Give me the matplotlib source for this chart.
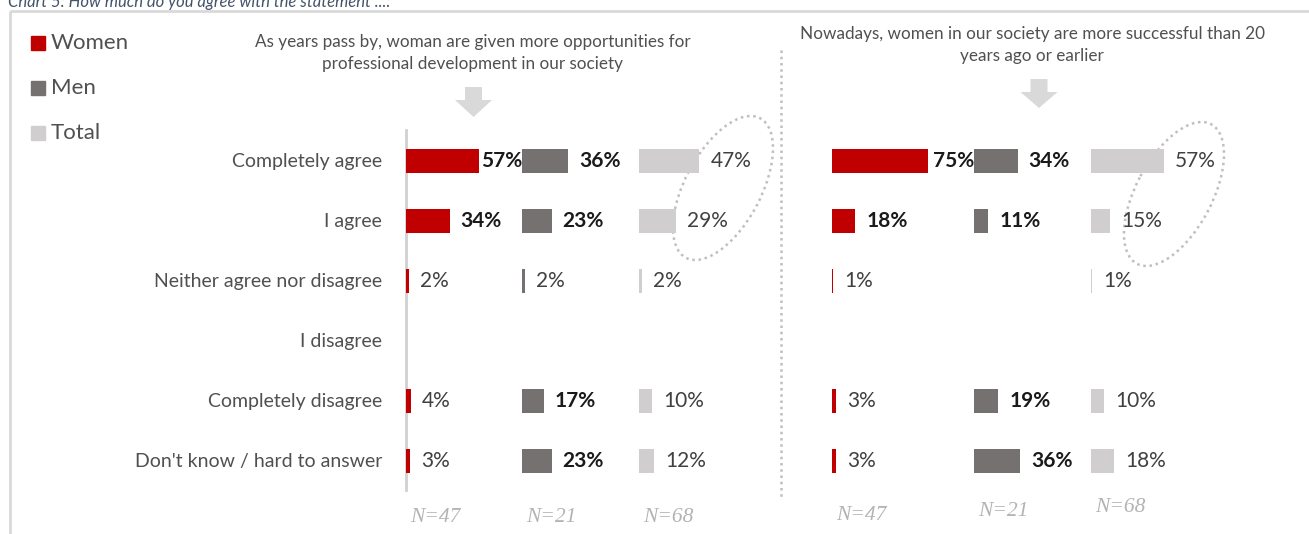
import matplotlib.pyplot as plt
from matplotlib.patches import Ellipse, Polygon, Rectangle

plt.rcParams['font.family'] = ['Lato', 'DejaVu Sans']

# 答案选项（从上到下）
answers = ["Completely agree", "I agree", "Neither agree nor disagree",
           "I disagree", "Completely disagree", "Don't know / hard to answer"]
groups = ["Women", "Men", "Total"]
sample_n = ["N=47", "N=21", "N=68"]

statement_1 = "As years pass by, woman are given more opportunities for\nprofessional development in our society"
statement_2 = "Nowadays, women in our society are more successful than 20\nyears ago or earlier"

# 百分比，None 表示没有答案
s1_women = [57, 34, 2, None, 4, 3]
s1_men = [36, 23, 2, None, 17, 23]
s1_total = [47, 29, 2, None, 10, 12]

s2_women = [75, 18, 1, None, 3, 3]
s2_men = [34, 11, None, None, 19, 36]
s2_total = [57, 15, 1, None, 10, 18]

colors = ["#C00000", "#767171", "#D0CECE"]

W, H = 1309, 534
PX = 1.285  # 每个百分点的像素宽度

fig = plt.figure(figsize=(W / 100, H / 100), dpi=100)

# 背景坐标系，按像素放置文字和装饰
bg = fig.add_axes([0, 0, 1, 1])
bg.set_xlim(0, W)
bg.set_ylim(H, 0)
bg.axis('off')


def panel(x0, x1, offsets, series, n_y):
    ax = fig.add_axes([x0 / W, 1 - 491 / H, (x1 - x0) / W, 360 / H])
    ax.set_xlim(0, (x1 - x0) / PX)
    ax.set_ylim(5.5, -0.5)
    ax.axis('off')
    for k, (vals, off) in enumerate(zip(series, offsets)):
        nxt = offsets[k + 1] if k + 1 < len(offsets) else None
        for i, v in enumerate(vals):
            if v is None:
                continue
            ax.barh(i, v, left=off, height=0.4, color=colors[k], zorder=3)
            bold = k < 2 and v >= 10
            gap = 11 / PX
            if nxt is not None:
                room = nxt - off - v - 41 / PX
                gap = max(min(gap, room), 2 / PX)
            ax.text(off + v + gap, i, f"{v}%", va='center', ha='left', fontsize=15,
                    fontweight='bold' if bold else 'normal',
                    color='#1a1a1a' if bold else '#404040', zorder=4)
    for off, n, ny in zip(offsets, sample_n, n_y):
        bg.text(x0 + (off + 23) * PX, ny, n, ha='center', va='center', fontsize=15.5,
                family='Liberation Serif', style='italic', color='#b3b3b3')
    return ax


panel(406, 780, [0, 116 / PX, 233 / PX], [s1_women, s1_men, s1_total], [517, 517, 517])
panel(832, 1300, [0, 142 / PX, 259 / PX], [s2_women, s2_men, s2_total], [515, 512, 508])

# 类别标签
for i, a in enumerate(answers):
    bg.text(382, 161 + 60 * i, a, ha='right', va='center', fontsize=14, color='#505050')

# 左侧竖线
bg.plot([406, 406], [130, 490], color='#d0d0d0', lw=2)
# 中间虚线
bg.plot([781, 781], [50, 500], color='#bfbfbf', lw=1.8, ls=(0, (1, 1.5)))

# 外框
bg.add_patch(Rectangle((10, 11), W + 20, H, fill=False, edgecolor='#d9d9d9', lw=2))

# 标题（上方被裁掉一部分）
bg.text(8, 6.5, "Chart 5: How much do you agree with the statement ...:", ha='left',
        va='baseline', fontsize=12, style='italic', color='#44546A')

# 图例
for j, g in enumerate(groups):
    y = 43 + 45 * j
    bg.add_patch(Rectangle((31, y - 7), 14, 14, color=colors[j]))
    bg.text(51, y, g, ha='left', va='center', fontsize=16, color='#505050')

# 陈述文字
bg.text(473, 53, statement_1, ha='center', va='center', fontsize=12.3,
        color='#505050', linespacing=1.4)
bg.text(1032, 45, statement_2, ha='center', va='center', fontsize=12.3,
        color='#505050', linespacing=1.45)


def arrow(cx, top, neck, tip):
    pts = [(cx - 8.5, top), (cx + 8.5, top), (cx + 8.5, neck), (cx + 18.5, neck),
           (cx, tip), (cx - 18.5, neck), (cx - 8.5, neck)]
    bg.add_patch(Polygon(pts, closed=True, color='#d9d9d9', lw=0))


arrow(473.5, 87, 100, 117)
arrow(1039, 79, 92, 108)

# 圈出合计列
for cx, cy in [(723, 188), (1174, 194)]:
    bg.add_patch(Ellipse((cx, cy), 158, 76, angle=-62, fill=False, edgecolor='#bfbfbf',
                         lw=1.8, ls=(0, (1, 1.5))))

plt.savefig('out.png', dpi=100)
